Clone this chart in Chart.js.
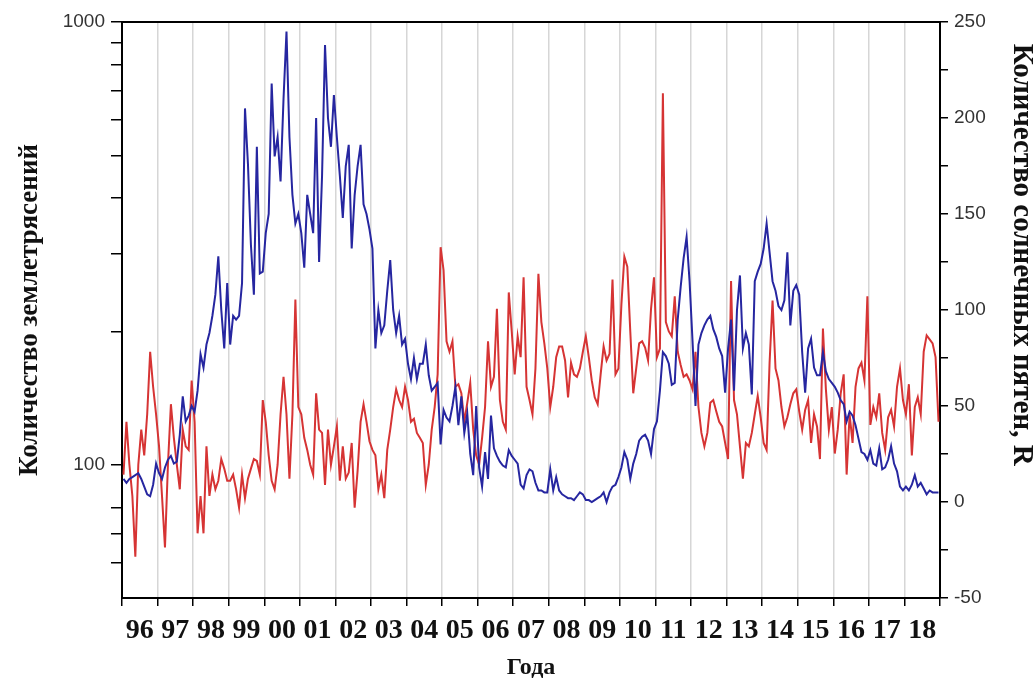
<!DOCTYPE html>
<html>
<head>
<meta charset="utf-8">
<script src="https://cdn.jsdelivr.net/npm/chart.js@4.4.1/dist/chart.umd.min.js"></script>
<style>
  html, body { margin: 0; padding: 0; background: #fff; }
  #wrap { width: 1036px; height: 686px; }
</style>
</head>
<body>
<div id="wrap"><canvas id="chart"></canvas></div>
<script>
// monthly values, Jan 1996 .. Dec 2018
var startYear = 1996;

// sunspot number R (right axis), one row per year
var sunspots = [
  12, 10, 12, 13, 14, 15, 12, 8, 4, 3, 9, 20,
  15, 12, 18, 22, 24, 20, 21, 35, 55, 42, 45, 50,
  47, 58, 77, 70, 82, 88, 97, 108, 128, 100, 80, 114,
  82, 97, 95, 97, 114, 205, 176, 134, 108, 185, 119, 120,
  140, 150, 218, 180, 190, 167, 210, 245, 190, 160, 145, 150,
  140, 122, 160, 150, 140, 200, 125, 170, 238, 200, 185, 212,
  190, 170, 148, 175, 186, 132, 160, 175, 186, 155, 150, 142,
  132, 80, 100, 88, 92, 110, 126, 100, 88, 97, 82, 85,
  72, 64, 75, 64, 72, 72, 82, 66, 58, 60, 62, 30,
  48, 44, 42, 50, 60, 40, 55, 36, 46, 25, 14, 50,
  18, 8, 26, 12, 45, 28, 24, 21, 19, 18, 27, 24,
  22, 20, 9, 7, 14, 17, 16, 10, 6, 6, 5, 5,
  17, 6, 13, 6, 4, 3, 2, 2, 1, 3, 5, 4,
  1, 1, 0, 1, 2, 3, 5, 0, 5, 8, 9, 13,
  18, 26, 22, 12, 20, 25, 32, 34, 35, 32, 25, 38,
  42, 58, 78, 76, 72, 61, 62, 95, 112, 127, 138, 115,
  84, 50, 82, 88, 92, 95, 97, 90, 86, 80, 76, 57,
  80, 95, 58, 100, 118, 80, 88, 82, 56, 115, 120, 124,
  132, 145, 130, 115, 110, 102, 100, 105, 130, 92, 110, 113,
  108, 78, 57, 80, 85, 70, 66, 66, 78, 68, 64, 62,
  60, 57, 53, 51, 42, 47, 45, 40, 33, 26, 25, 22,
  27, 20, 19, 28, 17, 18, 22, 29, 20, 16, 8, 6,
  8, 6, 9, 14, 8, 10, 7, 4, 6, 5, 5, 5
];

// number of earthquakes (left axis, log)
var quakes = [
  95, 125, 100, 85, 62, 100, 120, 105, 130, 180, 150, 130,
  110, 85, 65, 100, 137, 115, 100, 88, 120, 110, 108, 155,
  125, 70, 85, 70, 110, 85, 95, 88, 92, 103, 98, 92,
  92, 95, 88, 80, 95, 84, 93, 98, 103, 102, 95, 140,
  125, 105, 92, 88, 100, 130, 158, 130, 93, 130, 236, 135,
  130, 115, 108, 100, 95, 145, 120, 118, 90, 120, 100, 110,
  122, 92, 110, 93, 96, 112, 80, 97, 125, 137, 125, 113,
  108, 105, 88, 95, 84, 108, 120, 135, 148, 140, 135, 150,
  140, 125, 127, 118, 115, 112, 90, 100, 120, 135, 160, 310,
  275, 190, 180, 190, 150, 152, 145, 125, 138, 153, 120, 105,
  100, 115, 135, 190, 150, 158, 225, 140, 125, 120, 245, 200,
  160, 195, 175, 265, 150, 140, 130, 165, 270, 210, 188, 165,
  135, 150, 175, 185, 185, 172, 142, 170, 160, 158, 165, 180,
  195, 175, 155, 142, 137, 160, 185, 172, 178, 262, 160, 165,
  230, 295, 280, 200, 145, 165, 188, 190, 184, 172, 225, 265,
  175, 183, 690, 210, 200, 195, 240, 180, 168, 158, 160, 155,
  148, 180, 135, 118, 110, 118, 138, 140, 132, 125, 122, 112,
  103, 260, 140, 130, 110, 93, 112, 110, 118, 130, 143, 128,
  112, 108, 170, 235, 165, 155, 135, 122, 128, 137, 145, 148,
  132, 120, 133, 140, 112, 130, 122, 103, 203, 148, 120, 135,
  106, 120, 145, 160, 95, 130, 112, 150, 165, 170, 155, 240,
  123, 135, 128, 145, 118, 108, 128, 133, 122, 150, 165, 140,
  130, 152, 105, 135, 142, 130, 180, 196, 192, 188, 175, 125
];

var quakeTicks = [60, 70, 80, 100, 200, 300, 400, 500, 600, 700, 800, 900, 1000];
var quakeLabels = [100, 1000];

function toPoints(arr) {
  return arr.map(function(v, i) {
    return { x: startYear + (i + 0.5) / 12, y: v };
  });
}

var serif = "'Liberation Serif', 'Times New Roman', serif";
var sans = "'Liberation Sans', Arial, sans-serif";

new Chart(document.getElementById("chart"), {
  type: "line",
  data: {
    datasets: [{
      label: "R",
      data: toPoints(sunspots),
      yAxisID: "yR",
      borderColor: "#2626a0",
      borderWidth: 2,
      pointRadius: 0,
      tension: 0
    }, {
      label: "quakes",
      data: toPoints(quakes),
      yAxisID: "yQ",
      borderColor: "#d63434",
      borderWidth: 2,
      pointRadius: 0,
      tension: 0
    }]
  },
  options: {
    responsive: true,
    maintainAspectRatio: false,
    animation: false,
    layout: { padding: { top: 22, left: 0, right: 0, bottom: 0 } },
    plugins: { legend: { display: false }, tooltip: { enabled: false } },
    scales: {
      x: {
        type: "linear",
        position: "bottom",
        min: 1996,
        max: 2019,
        afterBuildTicks: function(scale) {
          var t = [];
          for (var v = 1996; v <= 2019; v += 0.5) t.push({ value: v });
          scale.ticks = t;
        },
        afterFit: function(scale) { scale.height = 88; },
        ticks: {
          autoSkip: false,
          maxRotation: 0,
          padding: 8,
          color: "#111",
          font: { family: serif, size: 28, weight: "bold" },
          callback: function(v) {
            if (v % 1 !== 0.5) return "";
            return String(Math.floor(v) % 100).padStart(2, "0");
          }
        },
        grid: {
          color: function(ctx) {
            return ctx.tick && ctx.tick.value % 1 === 0 ? "#d6d6d6" : "rgba(0,0,0,0)";
          },
          tickColor: function(ctx) {
            return ctx.tick && ctx.tick.value % 1 === 0 ? "#000" : "rgba(0,0,0,0)";
          },
          lineWidth: 1.5,
          tickLength: 8
        },
        border: { color: "#000", width: 2 },
        title: {
          display: true,
          text: "Года",
          color: "#111",
          font: { family: serif, size: 24, weight: "bold" },
          padding: { top: 0, bottom: 4 }
        }
      },
      xTop: {
        type: "linear",
        position: "top",
        min: 0,
        max: 1,
        afterFit: function(scale) { scale.height = 0; },
        ticks: { display: false },
        grid: { drawOnChartArea: false, drawTicks: false },
        border: { color: "#000", width: 2 }
      },
      yQ: {
        type: "logarithmic",
        position: "left",
        min: 50,
        max: 1000,
        afterBuildTicks: function(scale) {
          scale.ticks = quakeTicks.map(function(v) { return { value: v }; });
        },
        afterFit: function(scale) { scale.width = 122; },
        ticks: {
          autoSkip: false,
          padding: 6,
          color: "#333",
          font: { family: sans, size: 19 },
          callback: function(v) {
            return quakeLabels.indexOf(v) >= 0 ? String(v) : "";
          }
        },
        grid: { drawOnChartArea: false, tickLength: 11, tickColor: "#000", lineWidth: 1.5 },
        border: { color: "#000", width: 2 },
        title: {
          display: true,
          text: "Количество землетрясений",
          color: "#111",
          font: { family: serif, size: 27, weight: "bold" },
          padding: { top: 14, bottom: 0 }
        }
      },
      yR: {
        type: "linear",
        position: "right",
        min: -50,
        max: 250,
        afterFit: function(scale) { scale.width = 96; },
        ticks: {
          stepSize: 25,
          autoSkip: false,
          padding: 6,
          color: "#333",
          font: { family: sans, size: 19 },
          callback: function(v) { return v % 50 === 0 ? String(v) : ""; }
        },
        grid: { drawOnChartArea: false, tickLength: 8, tickColor: "#000", lineWidth: 1.5 },
        border: { color: "#000", width: 2 },
        title: {
          display: true,
          text: "   Количество солнечных пятен, R",
          align: "end",
          color: "#111",
          font: { family: serif, size: 29, weight: "bold", lineHeight: 1 },
          padding: { top: 0, bottom: 0 }
        }
      }
    }
  }
});
</script>
</body>
</html>
